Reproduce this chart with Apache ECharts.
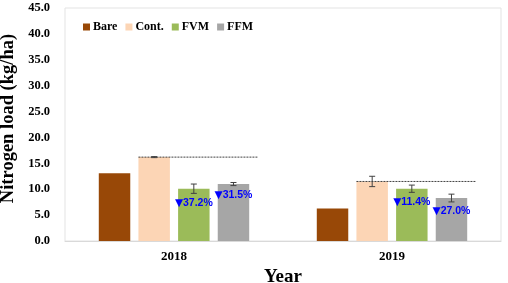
<!DOCTYPE html>
<html>
<head>
<meta charset="utf-8">
<script src="https://cdn.jsdelivr.net/npm/echarts@6/dist/echarts.min.js"></script>
<style>
  html, body { margin: 0; padding: 0; background: #fff; }
  #main { width: 508px; height: 283px; }
</style>
</head>
<body>
<div id="main"></div>
<script>
// data
let years = ['2018', '2019'];
let names = ['Bare', 'Cont.', 'FVM', 'FFM'];
let bare = [13.1, 6.3];
let cont = [16.2, 11.5];
let fvm = [10.1, 10.1];
let ffm = [11.0, 8.3];
let contErr = [0.1, 1.0];
let fvmErr = [0.9, 0.7];
let ffmErr = [0.3, 0.75];
let fvmPct = ['▼37.2%', '▼11.4%'];
let ffmPct = ['▼31.5%', '▼27.0%'];
let yTicks = [0, 5, 10, 15, 20, 25, 30, 35, 40, 45];

let colors = ['#984807', '#fcd5b5', '#9bbb59', '#a6a6a6'];
let serif = '"Liberation Serif", "Times New Roman", serif';

let catGap = 0.31;  // barCategoryGap
let barGap = 0.26;

// items for error bars / labels: [cat, seriesIdx, value, err, label]
let extra = [];
years.forEach((y, i) => {
  extra.push([i, 1, cont[i], contErr[i], '']);
  extra.push([i, 2, fvm[i], fvmErr[i], fvmPct[i]]);
  extra.push([i, 3, ffm[i], ffmErr[i], ffmPct[i]]);
});

function barCenter(api, cat, k) {
  let xc = api.coord([cat, 0])[0];
  let band = api.size([1, 0])[0];
  let total = band * (1 - catGap);
  let w = total / (4 + 3 * barGap);
  let left = xc - total / 2 + k * w * (1 + barGap);
  return { c: left + w / 2, w: w, gap: w * barGap };
}

function renderExtra(params, api) {
  let cat = api.value(0);
  let k = api.value(1);
  let val = api.value(2);
  let err = api.value(3);
  let label = extra[params.dataIndex][4];
  let b = barCenter(api, cat, k);
  let top = api.coord([cat, val + err])[1];
  let low = api.coord([cat, val - err])[1];
  let cap = 3;
  let style = { stroke: '#404040', lineWidth: 1 };
  let children = [
    { type: 'line', shape: { x1: b.c, y1: top, x2: b.c, y2: low }, style: style },
    { type: 'line', shape: { x1: b.c - cap, y1: top, x2: b.c + cap, y2: top }, style: style },
    { type: 'line', shape: { x1: b.c - cap, y1: low, x2: b.c + cap, y2: low }, style: style }
  ];
  if (k == 1) {
    // dotted reference line at Cont. level
    let yv = api.coord([cat, val])[1];
    let last = barCenter(api, cat, 3);
    children.push({
      type: 'line',
      shape: { x1: b.c - b.w / 2, y1: yv, x2: last.c + last.w / 2 + last.gap, y2: yv },
      style: { stroke: '#404040', lineWidth: 1, lineDash: [2, 1] }
    });
  }
  if (label) {
    // triangle drawn bigger, like the original
    children.push({
      type: 'text',
      x: b.c,
      y: low + 9.5,
      style: {
        text: '{t|' + label.charAt(0) + '}' + label.slice(1),
        fill: '#0000ff',
        font: 'bold 10.5px "Liberation Sans", Arial, sans-serif',
        align: 'center',
        verticalAlign: 'middle',
        rich: {
          t: { fontFamily: '"DejaVu Sans"', fontSize: 10.5, fontWeight: 'bold', fill: '#0000ff', color: '#0000ff' }
        }
      }
    });
  }
  return { type: 'group', children: children };
}

const chart = echarts.init(document.getElementById('main'));
var option = {
  animation: false,
  color: colors,
  grid: {
    left: 65, right: 7, top: 8, bottom: 42,
    outerBoundsMode: 'none',
    show: true, borderColor: '#e3e3e3', borderWidth: 1
  },
  legend: {
    data: names,
    left: 78,
    top: 16,
    icon: 'rect',
    itemWidth: 7,
    itemHeight: 7,
    itemGap: 8,
    textStyle: { fontFamily: serif, fontWeight: 'bold', fontSize: 12, color: '#000', padding: [0, 0, 0, -2] }
  },
  xAxis: {
    type: 'category',
    data: years,
    name: 'Year',
    nameLocation: 'middle',
    nameGap: 21,
    nameTextStyle: { fontFamily: serif, fontWeight: 'bold', fontSize: 19, color: '#000' },
    axisLine: { lineStyle: { color: '#d9d9d9' } },
    axisTick: { show: false },
    axisLabel: { fontFamily: serif, fontWeight: 'bold', fontSize: 13, color: '#000', margin: 9 }
  },
  yAxis: {
    type: 'value',
    min: yTicks[0],
    max: yTicks[yTicks.length - 1],
    interval: yTicks[1] - yTicks[0],
    name: 'Nitrogen load (kg/ha)',
    nameLocation: 'middle',
    nameGap: 42,
    nameTextStyle: { fontFamily: serif, fontWeight: 'bold', fontSize: 18.5, color: '#000', padding: [0, 0, 0, 12] },
    splitLine: { show: false },
    axisLine: { show: false },
    axisTick: { show: false },
    axisLabel: {
      fontFamily: serif, fontWeight: 'bold', fontSize: 12.5, color: '#000', margin: 15,
      formatter: function (v) { return v.toFixed(1); }
    }
  },
  series: [
    { name: names[0], type: 'bar', data: bare, barCategoryGap: '31%', barGap: '26%' },
    { name: names[1], type: 'bar', data: cont },
    { name: names[2], type: 'bar', data: fvm },
    { name: names[3], type: 'bar', data: ffm },
    {
      type: 'custom',
      renderItem: renderExtra,
      data: extra.map(d => [d[0], d[1], d[2], d[3]]),
      encode: { x: 0, y: 2 },
      z: 5,
      silent: true
    }
  ]
};
chart.setOption(option);
</script>
</body>
</html>
